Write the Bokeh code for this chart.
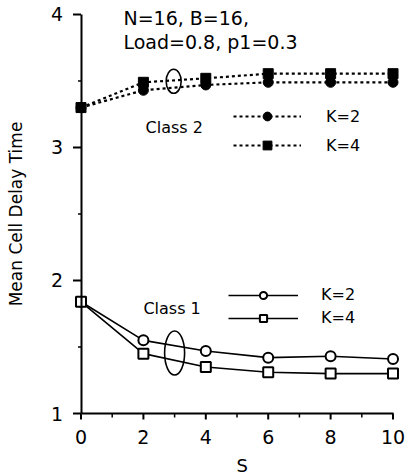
import math
from bokeh.plotting import figure
from bokeh.models import FixedTicker, Legend, LegendItem, Label, Range1d
from bokeh.embed import file_html
from bokeh.resources import INLINE

# ---- data ----
S = [0, 2, 4, 6, 8, 10]
class1_k2 = [1.84, 1.55, 1.47, 1.42, 1.43, 1.41]
class1_k4 = [1.84, 1.45, 1.35, 1.31, 1.30, 1.30]
class2_k2 = [3.30, 3.43, 3.47, 3.49, 3.49, 3.49]
class2_k4 = [3.30, 3.49, 3.52, 3.555, 3.555, 3.555]
x_ticks = [0, 2, 4, 6, 8, 10]
x_minor = [1, 3, 5, 7, 9]
y_ticks = [1, 2, 3, 4]
y_minor = [1.5, 2.5, 3.5]
note_lines = ["N=16, B=16,", "Load=0.8, p1=0.3"]

FONT = "DejaVu Sans"
X0, Y0 = 0, 1  # where the axes cross

# frame fills the canvas; both axes are pinned inside it
p = figure(width=408, height=475,
           x_range=Range1d(-2.58, 10.4), y_range=Range1d(0.534, 4.105),
           output_backend="svg", toolbar_location=None,
           min_border_left=0, min_border_right=3,
           min_border_top=0, min_border_bottom=0)
p.grid.visible = False
p.outline_line_color = None
p.background_fill_color = "white"
p.border_fill_color = "white"

# x axis
xa = p.xaxis[0]
xa.fixed_location = Y0
xa.bounds = (0, 10)
xa.ticker = FixedTicker(ticks=x_ticks, minor_ticks=x_minor)
xa.axis_line_width = 2
xa.axis_line_color = "black"
xa.major_tick_in = 0
xa.major_tick_out = 0
xa.minor_tick_in = 0
xa.minor_tick_out = 0
xa.major_label_text_font = FONT
xa.major_label_text_font_size = "19px"
xa.major_label_text_color = "black"
xa.major_label_standoff = 16

# y axis
ya = p.yaxis[0]
ya.fixed_location = X0
ya.bounds = (1, 4)
ya.ticker = FixedTicker(ticks=y_ticks, minor_ticks=y_minor)
ya.axis_line_width = 2
ya.axis_line_color = "black"
ya.major_tick_in = 0
ya.major_tick_out = 0
ya.minor_tick_in = 0
ya.minor_tick_out = 0
ya.major_label_text_font = FONT
ya.major_label_text_font_size = "19px"
ya.major_label_text_color = "black"
ya.major_label_standoff = 18
ya.axis_label = "Mean Cell Delay Time"
ya.axis_label_text_font = FONT
ya.axis_label_text_font_size = "17px"
ya.axis_label_text_font_style = "normal"
ya.axis_label_text_color = "black"
ya.axis_label_standoff = 22

# outward tick marks on the pinned axes
p.ray(x=[X0] * len(y_ticks), y=y_ticks, length=8, angle=math.pi,
      length_units="screen", line_color="black", line_width=2)
p.ray(x=[X0] * len(y_minor), y=y_minor, length=3, angle=math.pi,
      length_units="screen", line_color="black", line_width=1.5)
p.ray(x=x_ticks, y=[Y0] * len(x_ticks), length=6, angle=-math.pi / 2,
      length_units="screen", line_color="black", line_width=2)
p.ray(x=x_minor, y=[Y0] * len(x_minor), length=4, angle=-math.pi / 2,
      length_units="screen", line_color="black", line_width=1.5)

# x-axis title, centred under the bounded axis
p.add_layout(Label(x=5.17, y=0.609, text="S", text_font=FONT,
                   text_font_size="18px", text_align="center",
                   text_baseline="middle", text_color="black"))

# class 1 (solid, open markers)
l1a = p.line(S, class1_k2, line_color="black", line_width=1.6)
s1a = p.scatter(S, class1_k2, marker="circle", size=10, fill_color="white",
                line_color="black", line_width=2)
l1b = p.line(S, class1_k4, line_color="black", line_width=1.6)
s1b = p.scatter(S, class1_k4, marker="square", size=10, fill_color="white",
                line_color="black", line_width=2)

# class 2 (dotted, filled markers)
l2a = p.line(S, class2_k2, line_color="black", line_width=2.2, line_dash="3 3")
s2a = p.scatter(S, class2_k2, marker="circle", size=10, fill_color="black",
                line_color="black")
l2b = p.line(S, class2_k4, line_color="black", line_width=2.2, line_dash="3 3")
s2b = p.scatter(S, class2_k4, marker="square", size=10, fill_color="black",
                line_color="black")

# ellipses grouping the curves between S=2 and S=4
ex = (S[1] + S[2]) / 2
e1y = (class1_k2[1] + class1_k2[2] + class1_k4[1] + class1_k4[2]) / 4
e2y = (class2_k2[1] + class2_k2[2] + class2_k4[1] + class2_k4[2]) / 4
p.ellipse(x=[ex], y=[e1y], width=20, height=44, width_units="screen",
          height_units="screen", fill_alpha=0, line_color="black", line_width=1.6)
p.ellipse(x=[ex - 0.03], y=[e2y + 0.02], width=15, height=24, width_units="screen",
          height_units="screen", fill_alpha=0, line_color="black", line_width=1.6)

# legends (screen offsets from the frame's bottom-left corner)
leg2 = Legend(items=[LegendItem(label="K=2", renderers=[l2a, s2a]),
                     LegendItem(label="K=4", renderers=[l2b, s2b])],
              location=(233, 319), orientation="vertical",
              padding=0, margin=0, spacing=7,
              glyph_width=68, glyph_height=22, label_height=22,
              label_standoff=25, label_text_font=FONT,
              label_text_font_size="16px", label_text_color="black",
              border_line_alpha=0, background_fill_alpha=0)
leg1 = Legend(items=[LegendItem(label="K=2", renderers=[l1a, s1a]),
                     LegendItem(label="K=4", renderers=[l1b, s1b])],
              location=(228, 148), orientation="vertical",
              padding=0, margin=0, spacing=4,
              glyph_width=70, glyph_height=18, label_height=18,
              label_standoff=23, label_text_font=FONT,
              label_text_font_size="16px", label_text_color="black",
              border_line_alpha=0, background_fill_alpha=0)
p.add_layout(leg2, "center")
p.add_layout(leg1, "center")

# text annotations
for i, t in enumerate(note_lines):
    p.add_layout(Label(x=1.36, y=3.97 - i * 0.18, text=t, text_font=FONT,
                       text_font_size="19px", text_baseline="middle",
                       text_align="left", text_color="black"))
p.add_layout(Label(x=2.07, y=3.15, text="Class 2", text_font=FONT,
                   text_font_size="16px", text_baseline="middle",
                   text_color="black"))
p.add_layout(Label(x=2.0, y=1.79, text="Class 1", text_font=FONT,
                   text_font_size="16px", text_baseline="middle",
                   text_color="black"))

open("out.html", "w").write(file_html(p, INLINE))
